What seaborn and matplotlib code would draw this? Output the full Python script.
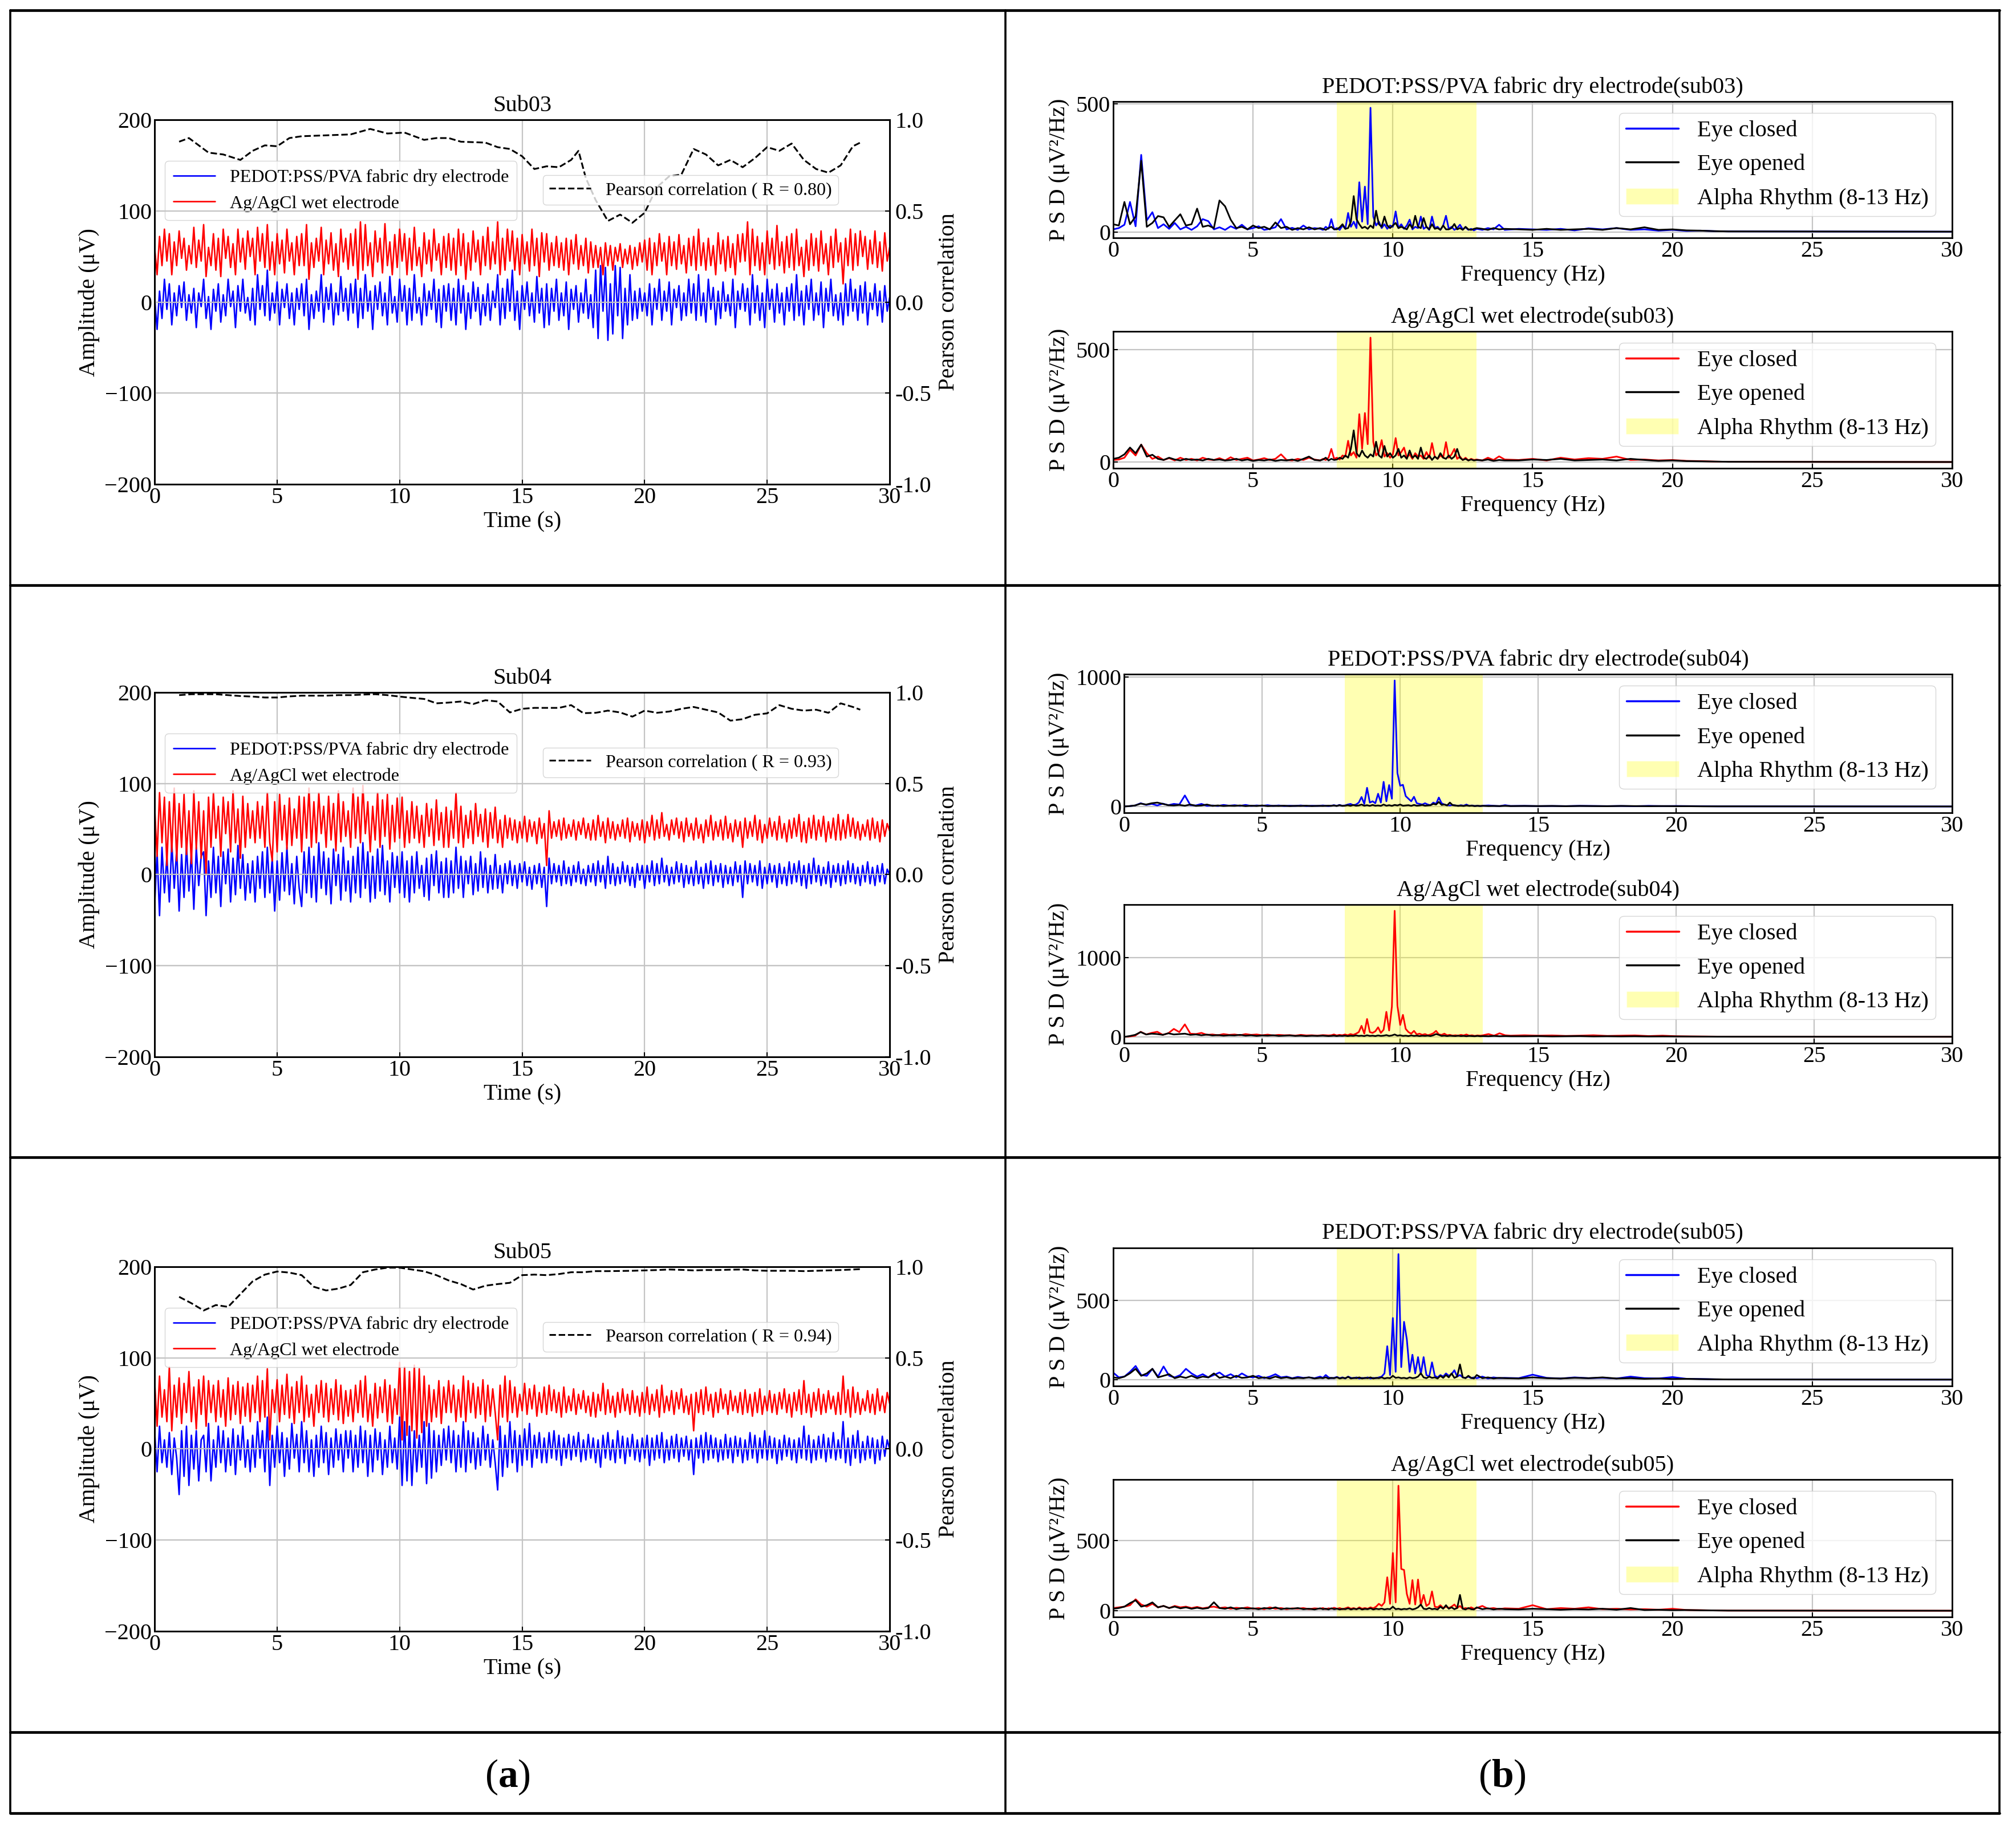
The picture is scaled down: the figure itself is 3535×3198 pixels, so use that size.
import numpy as np
import matplotlib
matplotlib.use("Agg")
import matplotlib.pyplot as plt
import seaborn as sns
from matplotlib.lines import Line2D
from matplotlib.patches import Patch
from matplotlib.ticker import FormatStrFormatter

# ─────────────────────────────────────────────────────────────────────
# DATA
# ─────────────────────────────────────────────────────────────────────

subjects = ["Sub03", "Sub04", "Sub05"]
sub_tags = ["sub03", "sub04", "sub05"]
corr_R = ["0.80", "0.93", "0.94"]

# EEG time axis, one sample every 0.1 s
time_s = np.arange(301) * 0.1

sub03_dry = [
    5, -30, 12, -18, 25, -8, 20, -25, 10, -15, 18, -6, 22, -20, 8, -12, 15, -28, 10, -5,
    25, -18, 6, -30, 14, -10, 20, -22, 8, -15, 25, -5, 12, -28, 18, -10, 25, -12, 5, -20,
    15, -25, 30, -8, 18, -15, 35, -20, 10, -12, 22, -25, 14, -6, 20, -18, 10, -25, 15, -8,
    20, -15, 25, -30, 8, -18, 12, -10, 30, -22, 16, -8, 20, -25, 10, -14, 28, -10, 15, -20,
    20, -12, 25, -28, 15, -18, 30, -10, 12, -30, 18, -8, 22, -15, 10, -25, 28, -12, 6, -22,
    25, -10, 18, -25, 15, -20, 30, -12, 5, -25, 20, -15, 12, -8, 25, -22, 14, -28, 18, -10,
    20, -20, 15, -25, 25, -12, 18, -30, 10, -18, 22, -10, 16, -25, 8, -15, 20, -20, 12, -6,
    30, -25, 15, -18, 25, -10, 35, -20, 12, -30, 18, -8, 22, -15, 10, -22, 28, -12, 15, -28,
    20, -25, 15, -10, 25, -20, 10, -15, 22, -30, 14, -8, 18, -22, 10, -12, 25, -18, 8, -28,
    35, -40, 40, -10, 38, -42, 20, -35, 40, -15, 38, -40, 15, -25, 30, -20, 12, -18, 15, -10,
    10, -15, 20, -25, 15, -8, 25, -20, 12, -10, 22, -25, 14, -6, 18, -20, 10, -15, 25, -12,
    20, -20, 30, -15, 10, -22, 25, -8, 16, -25, 12, -18, 22, -10, 8, -15, 25, -28, 12, -8,
    20, -10, 15, -25, 30, -12, 18, -20, 10, -28, 25, -8, 14, -22, 20, -12, 10, -25, 16, -10,
    20, -20, 30, -15, 12, -25, 18, -8, 25, -20, 10, -14, 22, -28, 15, -10, 25, -15, 8, -20,
    10, -25, 20, -15, 25, -10, 14, -20, 18, -12, 22, -25, 10, -8, 20, -15, 12, -22, 18, -10,
    5,
]
sub03_wet = [
    60, 30, 72, 40, 80, 45, 75, 30, 66, 40, 78, 48, 70, 35, 62, 42, 82, 38, 68, 45,
    85, 28, 60, 40, 75, 35, 70, 28, 80, 48, 72, 38, 64, 30, 80, 44, 70, 36, 78, 50,
    70, 30, 82, 45, 75, 38, 85, 35, 66, 30, 75, 42, 68, 32, 80, 45, 65, 30, 72, 40,
    75, 40, 85, 25, 65, 38, 70, 45, 82, 30, 68, 42, 76, 35, 64, 28, 80, 44, 70, 36,
    75, 40, 80, 25, 88, 35, 85, 40, 65, 28, 78, 44, 70, 32, 86, 40, 66, 30, 74, 38,
    80, 45, 75, 30, 70, 35, 82, 40, 60, 28, 76, 42, 68, 34, 80, 46, 64, 30, 72, 38,
    75, 35, 70, 30, 80, 40, 75, 25, 65, 35, 78, 44, 68, 30, 72, 40, 82, 36, 66, 42,
    88, 30, 70, 35, 80, 45, 78, 35, 70, 30, 74, 42, 66, 34, 80, 40, 70, 28, 76, 44,
    75, 35, 65, 40, 72, 38, 65, 35, 70, 30, 68, 42, 74, 36, 62, 40, 70, 32, 66, 38,
    62, 38, 60, 30, 65, 40, 62, 35, 60, 45, 64, 38, 58, 42, 62, 36, 60, 40, 65, 44,
    68, 35, 70, 30, 65, 40, 75, 45, 65, 30, 72, 40, 66, 36, 74, 42, 62, 32, 70, 40,
    72, 35, 80, 40, 65, 35, 70, 40, 62, 30, 76, 42, 68, 34, 72, 38, 64, 30, 74, 44,
    75, 45, 88, 30, 80, 40, 72, 35, 65, 30, 78, 42, 70, 36, 84, 40, 66, 32, 72, 38,
    75, 35, 80, 40, 60, 28, 68, 35, 75, 40, 70, 34, 78, 42, 64, 30, 72, 38, 80, 44,
    65, 20, 70, 40, 80, 35, 75, 40, 78, 50, 72, 36, 68, 42, 78, 38, 66, 34, 76, 45,
    60,
]
sub04_dry = [
    -35, 25, -45, 30, -20, 20, -30, 35, -15, 28, -40, 22, -25, 32, -18, 25, -38, 30, -12, 20,
    25, -45, 15, -25, 30, -20, 20, -35, 25, -10, 28, -30, 18, -22, 32, -15, 22, -28, 12, -20,
    15, -30, 20, -15, 25, -25, 30, -20, 18, -40, 15, -28, 24, -18, 30, -22, 12, -32, 20, -15,
    -35, 25, -20, 30, -25, 20, -30, 35, -15, 25, -22, 18, -32, 28, -12, 22, -28, 30, -18, 15,
    -30, 20, -20, 30, -25, 35, -15, 25, -30, 20, -26, 28, -18, 32, -22, 15, -30, 24, -14, 20,
    -20, 25, -25, 15, -30, 20, -20, 25, -15, 10, -24, 18, -28, 22, -12, 26, -20, 14, -25, 18,
    -25, 15, -20, 30, -15, 20, -25, 15, -10, 20, -22, 12, -18, 25, -14, 18, -20, 10, -16, 22,
    -15, 10, -20, 12, -10, 15, -12, 10, -15, 12, -8, 14, -12, 8, -16, 10, -10, 12, -14, 8,
    -35, 18, -10, 12, -8, 10, -12, 15, -10, 8, -12, 10, -8, 14, -10, 6, -12, 10, -8, 12,
    -12, 15, -8, 10, -15, 20, -10, 12, -12, 8, -10, 14, -8, 10, -12, 8, -14, 12, -6, 10,
    -15, 10, -8, 15, -12, 12, -10, 18, -8, 10, -12, 8, -10, 14, -8, 12, -14, 10, -10, 8,
    -12, 15, -10, 8, -15, 12, -10, 15, -12, 10, -8, 12, -14, 10, -10, 8, -12, 14, -8, 10,
    -25, 15, -10, 12, -8, 10, -12, 15, -15, 8, -10, 12, -8, 10, -14, 12, -10, 8, -12, 14,
    -10, 12, -8, 15, -12, 10, -15, 12, -10, 18, -8, 10, -12, 8, -10, 14, -14, 10, -8, 12,
    -12, 10, -10, 15, -8, 12, -10, 8, -12, 10, -8, 14, -10, 8, -12, 10, -8, 12, -10, 6,
    0,
]
sub04_wet = [
    75, 20, 90, 35, 85, 10, 80, 25, 95, 15, 78, 30, 88, 22, 70, 12, 92, 28, 80, 18,
    70, 0, 85, 30, 90, 40, 75, 20, 85, 45, 80, 25, 92, 35, 72, 18, 86, 30, 78, 40,
    70, 35, 80, 40, 75, 30, 90, 35, 15, 80, 25, 88, 38, 76, 28, 84, 32, 72, 40, 86,
    25, 85, 40, 95, 30, 80, 35, 90, 45, 75, 30, 86, 38, 78, 26, 92, 36, 80, 42, 70,
    30, 95, 40, 85, 35, 98, 45, 80, 25, 75, 38, 90, 30, 82, 42, 88, 28, 76, 36, 84,
    40, 85, 30, 70, 35, 80, 40, 75, 35, 65, 30, 78, 42, 72, 32, 82, 38, 68, 30, 74,
    30, 70, 40, 90, 35, 75, 30, 65, 40, 70, 34, 78, 42, 66, 36, 72, 30, 68, 40, 74,
    35, 60, 30, 65, 40, 62, 38, 60, 35, 58, 40, 64, 36, 60, 42, 58, 34, 62, 40, 56,
    10, 70, 40, 58, 42, 60, 38, 62, 40, 55, 42, 60, 38, 58, 44, 62, 40, 56, 38, 60,
    38, 65, 42, 58, 35, 62, 40, 58, 38, 55, 42, 60, 40, 62, 36, 58, 42, 56, 38, 60,
    35, 58, 42, 65, 38, 60, 40, 68, 42, 55, 38, 60, 44, 62, 40, 58, 36, 62, 42, 56,
    38, 62, 40, 55, 35, 60, 42, 65, 38, 58, 42, 60, 38, 64, 40, 56, 36, 60, 42, 58,
    30, 62, 40, 58, 42, 65, 38, 60, 35, 55, 40, 62, 42, 58, 38, 64, 40, 56, 36, 60,
    40, 62, 42, 66, 36, 58, 35, 62, 40, 65, 38, 60, 42, 64, 36, 58, 40, 62, 38, 66,
    38, 60, 40, 66, 42, 62, 40, 58, 38, 55, 42, 60, 38, 62, 40, 58, 36, 60, 42, 56,
    48,
]
sub05_dry = [
    20, -25, 25, -15, 10, -20, 18, -28, 12, -10, -50, 20, -30, 25, -40, 15, -22, 20, -35, 10,
    15, -25, 28, -35, 10, -20, 25, -15, 20, -25, 12, -18, 22, -28, 15, -12, 25, -20, 10, -25,
    15, -20, 30, -10, 20, -25, 35, -40, 15, -20, 25, -15, 18, -30, 12, -22, 28, -10, 16, -25,
    30, -15, 20, -25, 10, -30, 15, -20, 25, -15, 18, -28, 12, -20, 22, -12, 16, -25, 20, -10,
    20, -25, 15, -20, 25, -15, 20, -30, 15, -25, 22, -12, 18, -28, 10, -20, 25, -15, 12, -22,
    35, -40, 30, -35, 25, -40, 20, -25, 15, -20, 30, -38, 28, -32, 20, -25, 15, -18, 22, -12,
    25, -15, 20, -25, 15, -20, 30, -25, 20, -15, 18, -22, 12, -18, 25, -12, 16, -20, 10, -15,
    -45, 25, -30, 15, -20, 30, -15, 20, -25, 15, -18, 22, -12, 28, -20, 15, -10, 18, -15, 12,
    -15, 18, -10, 20, -12, 15, -18, 12, -10, 16, -12, 14, -8, 18, -14, 10, -12, 16, -10, 12,
    -15, 10, -20, 15, -10, 18, -12, 10, -15, 20, -10, 14, -16, 12, -8, 16, -12, 10, -14, 12,
    -10, 15, -18, 12, -12, 15, -10, 18, -15, 10, -12, 14, -10, 16, -14, 12, -8, 14, -12, 10,
    -28, 12, -10, 15, -15, 18, -12, 15, -10, 12, -14, 10, -12, 16, -10, 12, -15, 14, -8, 12,
    -15, 10, -12, 18, -10, 15, -15, 12, -10, 20, -12, 14, -10, 12, -16, 10, -12, 15, -8, 12,
    -12, 10, -15, 12, -10, 25, -12, 15, -15, 10, -12, 14, -10, 16, -14, 12, -10, 18, -12, 10,
    -10, 30, -15, 12, -18, 15, -10, 20, -15, 8, -12, 14, -10, 12, -16, 10, -12, 14, -8, 10,
    0,
]
sub05_wet = [
    75, 25, 80, 35, 65, 30, 90, 20, 70, 35, 78, 28, 72, 40, 85, 30, 68, 22, 76, 38,
    80, 25, 75, 40, 70, 30, 75, 35, 65, 25, 78, 32, 70, 38, 74, 28, 68, 36, 72, 30,
    70, 40, 80, 30, 75, 35, 88, 10, 65, 40, 76, 30, 70, 38, 82, 34, 68, 28, 74, 40,
    80, 30, 70, 35, 60, 25, 70, 40, 75, 35, 72, 30, 66, 38, 76, 32, 70, 28, 64, 36,
    65, 30, 70, 40, 75, 35, 80, 30, 60, 25, 72, 34, 68, 40, 76, 30, 70, 28, 66, 38,
    95, 10, 90, 15, 85, 20, 92, 12, 88, 18, 80, 25, 70, 30, 65, 35, 75, 28, 68, 40,
    75, 40, 70, 30, 65, 35, 80, 30, 75, 40, 72, 34, 68, 38, 76, 30, 70, 36, 66, 40,
    10, 70, 35, 80, 30, 75, 40, 68, 35, 60, 42, 72, 38, 66, 44, 70, 36, 62, 40, 68,
    38, 70, 42, 65, 40, 62, 35, 68, 40, 58, 42, 66, 38, 60, 44, 64, 40, 58, 36, 62,
    35, 60, 42, 72, 38, 65, 40, 58, 35, 62, 40, 66, 42, 60, 38, 64, 40, 58, 36, 62,
    40, 68, 38, 60, 42, 65, 35, 70, 40, 58, 42, 64, 38, 62, 44, 66, 40, 58, 38, 60,
    20, 62, 40, 65, 38, 68, 42, 60, 35, 62, 40, 66, 44, 60, 38, 64, 42, 58, 40, 62,
    38, 65, 40, 60, 36, 62, 40, 66, 38, 58, 42, 64, 40, 60, 38, 62, 44, 66, 40, 60,
    35, 62, 42, 65, 38, 75, 40, 60, 35, 62, 42, 66, 38, 60, 40, 64, 44, 58, 38, 62,
    38, 80, 40, 65, 35, 68, 40, 62, 38, 55, 42, 64, 40, 60, 38, 66, 42, 58, 40, 62,
    50,
]

# sliding-window Pearson correlation
corr_t03 = [1.0, 1.4, 2.2, 2.8, 3.5, 4.0, 4.5, 5.0, 5.5, 6.0,
            7.0, 8.0, 8.8, 9.5, 10.2, 11.0, 11.5, 12.0, 12.5, 13.5,
            14.0, 14.5, 15.0, 15.5, 16.0, 16.5, 17.0, 17.3, 17.6, 18.0,
            18.5, 19.0, 19.5, 20.0, 20.5, 21.0, 21.5, 22.0, 22.5, 23.0,
            23.5, 24.0, 24.5, 25.0, 25.5, 26.0, 26.5, 27.0, 27.5, 28.0,
            28.5, 28.8]
corr_r03 = [0.88, 0.90, 0.82, 0.81, 0.78, 0.83, 0.86, 0.855, 0.90, 0.91,
            0.915, 0.92, 0.95, 0.925, 0.93, 0.89, 0.90, 0.90, 0.88, 0.875,
            0.85, 0.84, 0.80, 0.73, 0.745, 0.74, 0.78, 0.83, 0.68, 0.56,
            0.445, 0.48, 0.435, 0.49, 0.63, 0.69, 0.70, 0.84, 0.81, 0.75,
            0.78, 0.74, 0.79, 0.85, 0.83, 0.87, 0.78, 0.73, 0.71, 0.75,
            0.855, 0.875]
corr_t45 = list(np.arange(1.0, 28.51, 0.5)) + [28.8]
corr_r04 = [0.985, 0.99, 0.99, 0.99, 0.985, 0.98, 0.977, 0.972, 0.972, 0.978,
            0.982, 0.982, 0.982, 0.985, 0.985, 0.988, 0.99, 0.985, 0.977, 0.97,
            0.964, 0.94, 0.944, 0.95, 0.936, 0.957, 0.95, 0.89, 0.91, 0.915,
            0.915, 0.915, 0.93, 0.886, 0.888, 0.90, 0.89, 0.867, 0.90, 0.888,
            0.895, 0.91, 0.92, 0.905, 0.89, 0.845, 0.853, 0.877, 0.885, 0.93,
            0.91, 0.90, 0.905, 0.888, 0.94, 0.92, 0.905]
corr_r05 = [0.835, 0.80, 0.76, 0.79, 0.78, 0.85, 0.92, 0.957, 0.974, 0.968,
            0.954, 0.89, 0.87, 0.88, 0.90, 0.97, 0.985, 0.995, 0.995, 0.985,
            0.975, 0.954, 0.925, 0.905, 0.875, 0.896, 0.905, 0.912, 0.954, 0.957,
            0.954, 0.96, 0.97, 0.97, 0.976, 0.976, 0.977, 0.978, 0.98, 0.982,
            0.985, 0.983, 0.98, 0.982, 0.982, 0.984, 0.985, 0.98, 0.978, 0.978,
            0.978, 0.976, 0.978, 0.98, 0.982, 0.985, 0.987]

# PSD frequency axis: 0.2 Hz to 7.4, 0.1 Hz over 7.5-12.9, coarser above
psd_freq = np.concatenate([np.arange(38) * 0.2, 7.5 + np.arange(55) * 0.1,
                           13.0 + np.arange(6) * 0.2, 14.5 + np.arange(16) * 0.5, [30.0]])

dry03_closed = [
    10, 15, 28, 117, 22, 301, 45, 77, 15, 30,
    12, 35, 10, 20, 8, 22, 50, 42, 10, 18,
    8, 22, 12, 28, 10, 15, 22, 8, 12, 18,
    50, 10, 16, 8, 25, 10, 15, 12,
    8, 20, 12, 50, 10,
    15, 8, 25, 12, 74, 20, 40, 15, 194, 40,
    177, 30, 485, 60, 25, 40, 15, 30, 12, 25,
    20, 80, 15, 30, 12, 25, 48, 10, 20, 15,
    60, 12, 20, 8, 60, 15, 20, 8, 25, 63,
    12, 20, 8, 15, 28, 10, 18, 8, 12, 6,
    12, 8, 15, 10, 28, 8,
    12, 10, 8, 12, 6, 14, 10, 15, 8, 10, 5, 8, 4, 5, 3, 2,
    1,
]
dry03_open = [
    30, 25, 117, 30, 60, 278, 20, 35, 62, 57,
    20, 45, 69, 25, 30, 91, 20, 25, 15, 123,
    100, 48, 15, 20, 10, 25, 15, 20, 10, 37,
    15, 20, 8, 15, 10, 18, 10, 15,
    12, 8, 15, 20, 10,
    10, 18, 30, 12, 15, 40, 140, 50, 30, 15,
    20, 12, 25, 15, 83, 30, 20, 60, 25, 15,
    25, 35, 15, 20, 15, 10, 30, 15, 63, 20,
    15, 54, 20, 10, 30, 12, 15, 8, 25, 10,
    10, 15, 31, 10, 15, 8, 20, 10, 8, 12,
    15, 12, 8, 15, 10, 12,
    10, 8, 12, 8, 10, 12, 8, 15, 10, 18, 8, 10, 6, 5, 3, 2,
    1,
]
wet03_closed = [
    10, 12, 20, 55, 30, 78, 40, 15, 25, 10,
    18, 8, 20, 10, 15, 8, 20, 12, 10, 18,
    8, 22, 10, 15, 20, 8, 12, 18, 10, 15,
    35, 10, 8, 15, 10, 20, 12, 8,
    15, 10, 20, 59, 15,
    20, 12, 30, 25, 95, 30, 45, 20, 213, 60,
    218, 80, 552, 90, 30, 45, 98, 25, 40, 20,
    35, 107, 30, 45, 65, 20, 35, 15, 40, 25,
    30, 15, 45, 20, 85, 25, 15, 30, 20, 89,
    20, 35, 59, 15, 25, 10, 20, 8, 15, 10,
    12, 8, 20, 10, 26, 12,
    10, 15, 8, 20, 12, 18, 15, 25, 10, 12, 8, 10, 6, 5, 3, 2,
    1,
]
wet03_open = [
    15, 20, 35, 65, 40, 78, 25, 33, 15, 10,
    20, 12, 8, 15, 10, 12, 8, 15, 10, 12,
    8, 10, 15, 8, 12, 6, 10, 8, 12, 6,
    10, 8, 12, 6, 15, 25, 10, 8,
    12, 20, 8, 15, 10,
    12, 20, 15, 30, 20, 60, 141, 40, 25, 52,
    30, 20, 35, 25, 91, 30, 20, 72, 25, 40,
    20, 30, 59, 20, 30, 15, 52, 20, 30, 15,
    65, 20, 15, 30, 10, 25, 15, 40, 20, 15,
    30, 15, 25, 59, 20, 10, 15, 8, 12, 8,
    10, 8, 12, 6, 10, 8,
    8, 12, 10, 15, 8, 10, 12, 8, 15, 10, 6, 8, 5, 4, 3, 2,
    1,
]
dry04_closed = [
    0, 3, 8, 25, 12, 20, 8, 22, 10, 20,
    15, 85, 10, 8, 20, 5, 8, 4, 12, 6,
    10, 5, 12, 4, 8, 5, 10, 4, 8, 3,
    6, 4, 8, 3, 6, 4, 8, 3,
    6, 10, 5, 12, 6,
    8, 15, 20, 10, 15, 30, 73, 20, 144, 30,
    40, 25, 98, 30, 190, 40, 165, 60, 972, 258,
    160, 167, 80, 60, 40, 75, 25, 20, 15, 25,
    15, 10, 30, 20, 69, 25, 15, 10, 8, 12,
    8, 5, 10, 6, 15, 5, 8, 4, 6, 3,
    6, 8, 5, 3, 10, 4,
    5, 3, 4, 3, 5, 4, 3, 4, 2, 5, 3, 4, 3, 2, 1, 1,
    0,
]
dry04_open = [
    0, 3, 8, 22, 15, 25, 30, 20, 10, 8,
    12, 6, 15, 5, 8, 15, 5, 8, 4, 6,
    5, 8, 3, 6, 4, 8, 3, 5, 4, 6,
    3, 5, 4, 6, 3, 5, 4, 6,
    5, 8, 4, 10, 5,
    6, 10, 5, 12, 6, 8, 15, 6, 10, 5,
    12, 6, 8, 5, 15, 6, 10, 5, 12, 8,
    15, 6, 8, 10, 5, 12, 6, 8, 12, 6,
    8, 10, 20, 15, 35, 12, 15, 8, 30, 10,
    8, 5, 6, 4, 8, 5, 6, 3, 5, 4,
    5, 3, 4, 3, 5, 3,
    4, 3, 4, 2, 4, 3, 2, 4, 3, 2, 3, 2, 2, 1, 1, 1,
    0,
]
wet04_closed = [
    0, 5, 15, 64, 30, 50, 64, 25, 45, 100,
    60, 157, 40, 35, 50, 25, 30, 20, 35, 25,
    30, 20, 35, 25, 30, 20, 28, 18, 25, 20,
    22, 15, 25, 18, 20, 15, 22, 18,
    20, 30, 18, 25, 20,
    30, 20, 35, 25, 40, 60, 139, 40, 225, 60,
    50, 70, 120, 50, 90, 315, 80, 382, 1588, 393,
    150, 277, 100, 60, 40, 75, 30, 40, 25, 35,
    20, 30, 45, 75, 30, 25, 40, 20, 25, 15,
    20, 15, 25, 18, 30, 15, 20, 12, 18, 15,
    20, 35, 15, 45, 20, 15,
    20, 15, 18, 12, 15, 20, 12, 15, 18, 10, 15, 8, 6, 5, 3, 2,
    1,
]
wet04_open = [
    0, 10, 25, 60, 30, 40, 35, 25, 45, 30,
    35, 40, 25, 30, 20, 28, 18, 22, 15, 20,
    18, 25, 15, 20, 12, 18, 15, 20, 12, 15,
    18, 12, 15, 10, 14, 12, 15, 10,
    12, 15, 10, 14, 12,
    15, 10, 14, 12, 18, 12, 15, 10, 20, 12,
    15, 10, 18, 12, 15, 22, 12, 18, 30, 15,
    20, 12, 15, 10, 18, 12, 15, 10, 14, 12,
    15, 10, 20, 35, 25, 12, 15, 10, 14, 12,
    10, 14, 10, 12, 8, 12, 10, 8, 12, 8,
    10, 8, 12, 8, 10, 8,
    8, 10, 6, 8, 10, 6, 8, 6, 8, 5, 6, 5, 4, 3, 2, 2,
    1,
]
dry05_closed = [
    45, 15, 20, 50, 87, 30, 25, 69, 20, 84,
    25, 15, 30, 69, 40, 20, 35, 15, 30, 46,
    20, 35, 15, 40, 20, 15, 25, 10, 20, 35,
    15, 20, 10, 18, 12, 15, 10, 20,
    12, 30, 15, 10, 12,
    18, 10, 15, 8, 20, 12, 10, 15, 8, 12,
    10, 15, 8, 12, 10, 15, 20, 40, 212, 30,
    390, 50, 794, 80, 366, 255, 50, 158, 40, 143,
    35, 143, 30, 20, 110, 25, 15, 30, 20, 40,
    25, 35, 60, 20, 30, 15, 12, 20, 10, 15,
    10, 20, 8, 15, 10, 12,
    10, 32, 12, 8, 15, 10, 12, 8, 20, 10, 8, 17, 6, 5, 3, 2,
    1,
]
dry05_open = [
    15, 10, 20, 41, 69, 25, 40, 69, 15, 25,
    35, 10, 20, 12, 25, 10, 20, 15, 40, 12,
    20, 10, 25, 12, 15, 25, 10, 15, 8, 20,
    10, 15, 8, 12, 10, 15, 8, 12,
    10, 15, 8, 12, 10,
    15, 8, 12, 10, 18, 8, 12, 10, 15, 8,
    12, 10, 15, 8, 12, 10, 15, 8, 12, 10,
    25, 12, 15, 10, 12, 8, 15, 10, 12, 20,
    41, 15, 10, 20, 12, 15, 8, 25, 12, 30,
    15, 40, 12, 20, 97, 15, 10, 25, 12, 8,
    30, 10, 15, 8, 12, 10,
    8, 15, 10, 8, 12, 10, 15, 8, 10, 6, 8, 5, 6, 4, 3, 2,
    1,
]
wet05_closed = [
    20, 25, 30, 40, 82, 45, 30, 50, 25, 35,
    20, 35, 25, 30, 20, 28, 18, 25, 30, 20,
    25, 15, 22, 18, 25, 15, 20, 12, 25, 15,
    20, 12, 18, 15, 20, 12, 18, 15,
    20, 12, 18, 15, 22,
    15, 20, 12, 18, 25, 15, 20, 12, 25, 15,
    20, 15, 25, 18, 30, 50, 35, 60, 238, 50,
    410, 60, 887, 297, 290, 120, 50, 218, 45, 222,
    40, 113, 35, 50, 138, 30, 25, 40, 20, 30,
    20, 30, 45, 20, 35, 15, 20, 15, 25, 15,
    20, 35, 15, 20, 12, 18,
    15, 40, 12, 20, 15, 25, 12, 15, 10, 12, 8, 15, 6, 5, 3, 2,
    1,
]
wet05_open = [
    15, 20, 30, 55, 75, 30, 40, 60, 25, 35,
    20, 30, 18, 25, 15, 22, 15, 20, 61, 20,
    15, 25, 12, 20, 15, 18, 12, 20, 15, 25,
    12, 18, 15, 20, 12, 15, 10, 18,
    12, 15, 10, 18, 12,
    15, 10, 14, 12, 18, 10, 15, 12, 18, 10,
    14, 12, 18, 10, 15, 12, 16, 10, 14, 12,
    30, 12, 15, 10, 14, 12, 18, 10, 15, 25,
    45, 15, 12, 20, 12, 15, 10, 30, 15, 40,
    15, 25, 12, 20, 113, 15, 10, 20, 12, 10,
    25, 12, 18, 10, 15, 12,
    10, 15, 12, 8, 12, 10, 15, 8, 20, 6, 8, 5, 6, 4, 3, 2,
    1,
]

psd_yticks = [[0, 500], [0, 1000], [0, 500]]

# ─────────────────────────────────────────────────────────────────────
# LAYOUT (figure fractions, measured on the reference)
# ─────────────────────────────────────────────────────────────────────

FIG_W, FIG_H = 3535, 3198
SIG_RECTS = [[0.0767, 0.7345, 0.3646, 0.1998],
             [0.0767, 0.4206, 0.3646, 0.1998],
             [0.0767, 0.1057, 0.3646, 0.1998]]
PSD_RECTS = [([0.5522, 0.8696, 0.4161, 0.0747], [0.5522, 0.7433, 0.4161, 0.0750]),
             ([0.5576, 0.5544, 0.4108, 0.0760], [0.5576, 0.4281, 0.4108, 0.0760]),
             ([0.5522, 0.2402, 0.4161, 0.0757], [0.5522, 0.1135, 0.4161, 0.0754])]

FS = 29        # main font size (pt at 100 dpi)
FS_LEG = 23    # legend size on the time-domain panels


def style_axis(ax):
    ax.tick_params(direction="in", length=6, width=1.5, labelsize=FS, colors="black")
    for sp in ax.spines.values():
        sp.set_color("black")
        sp.set_linewidth(2.0)


def plot_signal(ax, dry, wet, ct, cr, r_txt, title):
    sns.lineplot(x=time_s, y=dry, ax=ax, color="blue", linewidth=1.9,
                 label="PEDOT:PSS/PVA fabric dry electrode")
    sns.lineplot(x=time_s, y=wet, ax=ax, color="red", linewidth=1.9,
                 label="Ag/AgCl wet electrode")
    ax.set_xlim(0, 30)
    ax.set_ylim(-200, 200)
    ax.set_xticks(range(0, 31, 5))
    ax.set_yticks([-200, -100, 0, 100, 200])
    ax.set_title(title, fontsize=FS, pad=11)
    ax.set_xlabel("Time (s)", fontsize=FS, labelpad=4)
    ax.set_ylabel("Amplitude (μV)", fontsize=FS, labelpad=6)
    style_axis(ax)
    ax.legend(loc="upper left", bbox_to_anchor=(0.014, 0.887), borderaxespad=0,
              fontsize=FS_LEG, handlelength=2.3, labelspacing=0.5, borderpad=0.45,
              framealpha=0.8)

    ax2 = ax.twinx()
    sns.lineplot(x=ct, y=cr, ax=ax2, color="black", linewidth=2.2, linestyle="--",
                 label=f"Pearson correlation ( R = {r_txt})")
    ax2.set_ylim(-1, 1)
    ax2.set_yticks([-1, -0.5, 0, 0.5, 1])
    ax2.yaxis.set_major_formatter(FormatStrFormatter("%.1f"))
    ax2.set_ylabel("Pearson correlation", fontsize=FS, labelpad=8)
    ax2.xaxis.grid(False)
    style_axis(ax2)
    ax2.tick_params(axis="y", pad=7)
    ax2.legend(loc="upper left", bbox_to_anchor=(0.528, 0.848), borderaxespad=0,
               fontsize=FS_LEG, handlelength=2.3, borderpad=0.35, framealpha=0.8)


def plot_psd(ax, closed, opened, color, title, yticks):
    ax.axvspan(8, 13, color="yellow", alpha=0.3, lw=0)
    sns.lineplot(x=psd_freq, y=closed, ax=ax, color=color, linewidth=2.1, legend=False)
    sns.lineplot(x=psd_freq, y=opened, ax=ax, color="black", linewidth=2.1, legend=False)
    ax.set_xlim(0, 30)
    ax.set_xticks(range(0, 31, 5))
    ax.set_yticks(yticks)
    ax.set_title(title, fontsize=FS, pad=11)
    ax.set_xlabel("Frequency (Hz)", fontsize=FS)
    ax.set_ylabel("P S D (μV²/Hz)", fontsize=FS, labelpad=8)
    style_axis(ax)
    handles = [Line2D([], [], color=color, lw=2.5),
               Line2D([], [], color="black", lw=2.5),
               Patch(facecolor="yellow", alpha=0.3)]
    labels = ["Eye closed", "Eye opened", "Alpha Rhythm (8-13 Hz)"]
    ax.legend(handles, labels, loc="upper right", bbox_to_anchor=(0.98, 0.916),
              borderaxespad=0, fontsize=FS, handlelength=2.3, labelspacing=0.55,
              borderpad=0.3, framealpha=0.8)


def draw_table(fig):
    xs = [18, 1763, 3506]
    ys = [18, 1026, 2029, 3037, 3179]
    for x in xs:
        fig.add_artist(Line2D([x / FIG_W] * 2, [1 - ys[0] / FIG_H, 1 - ys[-1] / FIG_H],
                              transform=fig.transFigure, color="black", lw=2.6))
    for y in ys:
        fig.add_artist(Line2D([xs[0] / FIG_W, xs[-1] / FIG_W], [1 - y / FIG_H] * 2,
                              transform=fig.transFigure, color="black", lw=3.4))
    fig.text(890 / FIG_W, 1 - 3116 / FIG_H, r"($\mathbf{a}$)", ha="center", va="center",
             fontsize=50)
    fig.text(2634 / FIG_W, 1 - 3116 / FIG_H, r"($\mathbf{b}$)", ha="center", va="center",
             fontsize=50)


def main():
    sns.set_theme(style="whitegrid")
    plt.rcParams.update({
        "font.family": ["Liberation Serif", "DejaVu Serif"],
        "mathtext.fontset": "custom",
        "mathtext.rm": "Liberation Serif",
        "mathtext.bf": "Liberation Serif:bold",
        "text.color": "black",
        "axes.labelcolor": "black",
        "axes.edgecolor": "black",
        "grid.color": "#c4c4c4",
        "grid.linewidth": 1.6,
        "xtick.bottom": True,
        "ytick.left": True,
        "legend.edgecolor": "#cccccc",
    })

    eeg = [(sub03_dry, sub03_wet, corr_t03, corr_r03),
           (sub04_dry, sub04_wet, corr_t45, corr_r04),
           (sub05_dry, sub05_wet, corr_t45, corr_r05)]
    psd = [(dry03_closed, dry03_open, wet03_closed, wet03_open),
           (dry04_closed, dry04_open, wet04_closed, wet04_open),
           (dry05_closed, dry05_open, wet05_closed, wet05_open)]

    for dry, wet, ct, cr in eeg:
        assert len(dry) == len(time_s) and len(wet) == len(time_s), (len(dry), len(wet))
        assert len(ct) == len(cr), (len(ct), len(cr))
    for series in psd:
        for s in series:
            assert len(s) == len(psd_freq), len(s)

    fig = plt.figure(figsize=(FIG_W / 100, FIG_H / 100), dpi=100)

    for i in range(3):
        dry, wet, ct, cr = eeg[i]
        ax = fig.add_axes(SIG_RECTS[i])
        plot_signal(ax, dry, wet, ct, cr, corr_R[i], subjects[i])

        dc, do, wc, wo = psd[i]
        top_rect, bot_rect = PSD_RECTS[i]
        ax_t = fig.add_axes(top_rect)
        plot_psd(ax_t, dc, do, "blue",
                 f"PEDOT:PSS/PVA fabric dry electrode({sub_tags[i]})", psd_yticks[i])
        ax_b = fig.add_axes(bot_rect)
        plot_psd(ax_b, wc, wo, "red",
                 f"Ag/AgCl wet electrode({sub_tags[i]})", psd_yticks[i])

    draw_table(fig)
    fig.savefig("out.png", dpi=100, facecolor="white")


if __name__ == "__main__":
    main()
